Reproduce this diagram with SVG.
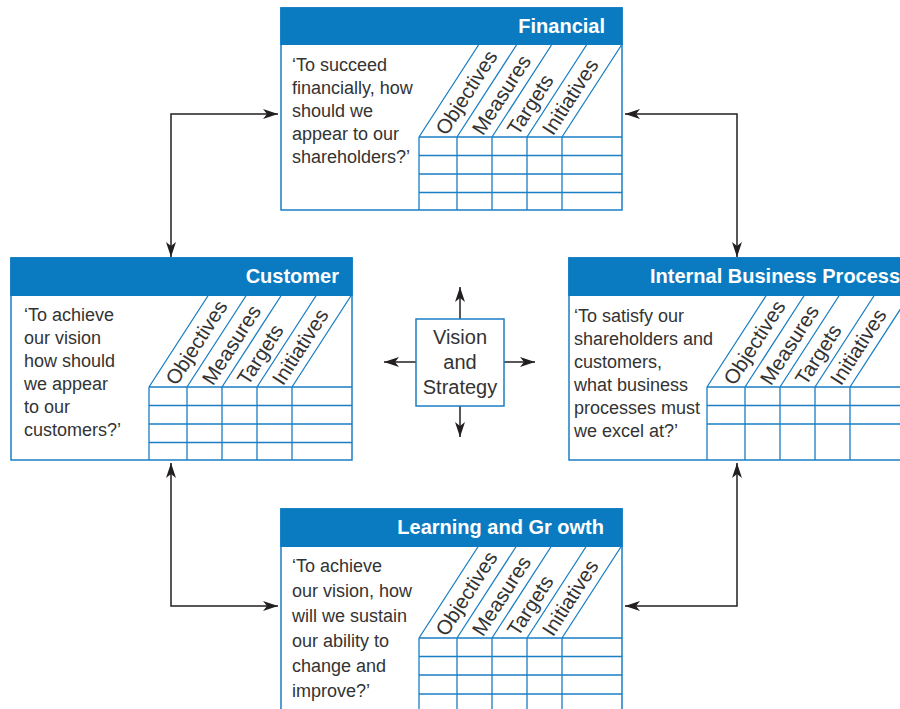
<svg xmlns="http://www.w3.org/2000/svg" xmlns:xlink="http://www.w3.org/1999/xlink" width="900" height="709" viewBox="0 0 900 709">
<style>
.box{fill:#fff;stroke:#1a7fc4;stroke-width:1.5}
.hdr{fill:#0a7bc1}
.grid{stroke:#1a7fc4;stroke-width:1.3;fill:none}
.ht{font-family:"Liberation Sans",Arial,sans-serif;font-weight:bold;font-size:20px;fill:#fff}
.q{font-family:"Liberation Sans",Arial,sans-serif;font-size:18px;fill:#333}
.lbl{font-family:"Liberation Sans",Arial,sans-serif;font-size:20.5px;fill:#333}
.vs{font-family:"Liberation Sans",Arial,sans-serif;font-size:20px;fill:#333;text-anchor:middle}
.conn{fill:none;stroke:#231f20;stroke-width:1.5;marker-start:url(#ah);marker-end:url(#ah)}
.out{fill:none;stroke:#231f20;stroke-width:1.5;marker-end:url(#ah)}
</style>
<defs>
<marker id="ah" viewBox="-16 -6 17 12" refX="0" refY="0" markerWidth="17" markerHeight="12" markerUnits="userSpaceOnUse" orient="auto-start-reverse">
<path d="M0,0 L-15,-5 L-11,0 L-15,5 Z" fill="#231f20"/>
</marker>
<g id="grid">
<path class="grid" d="M138,129 L197.5,37 M176,129 L235.5,37 M211,129 L270.5,37 M246,129 L305.5,37 M281,129 L340.5,37 M138,129 H341 M138,129 V202 M176,129 V202 M211,129 V202 M246,129 V202 M281,129 V202 M138,147.5 H341 M138,166 H341"/>
</g>
</defs>

<g id="connectors">
<path class="conn" d="M171,257 V114 H278"/>
<path class="conn" d="M625,114 H737 V257"/>
<path class="conn" d="M171,463 V606 H278"/>
<path class="conn" d="M737,463 V606 H625"/>
<path class="out" d="M460,319 V287"/>
<path class="out" d="M460,406 V437"/>
<path class="out" d="M416,362 H384"/>
<path class="out" d="M504,362 H535"/>
</g>

<g id="financial" transform="translate(281,8)">
<rect class="box" x="0" y="0" width="341" height="202"/>
<rect class="hdr" x="-0.75" y="-0.75" width="342.5" height="37.75"/>
<text class="ht" x="324" y="25" text-anchor="end">Financial</text>
<use xlink:href="#grid"/>
<path class="grid" d="M138,184.5 H341"/>
<text class="q" x="11"><tspan x="11" y="63">‘To succeed</tspan><tspan x="11" y="86">financially, how</tspan><tspan x="11" y="109">should we</tspan><tspan x="11" y="132">appear to our</tspan><tspan x="11" y="155">shareholders?’</tspan></text>
<text class="lbl" transform="translate(157,129) rotate(-57.3)" x="5" y="7">Objectives</text>
<text class="lbl" transform="translate(193.5,129) rotate(-57.3)" x="5" y="7">Measures</text>
<text class="lbl" transform="translate(228.5,129) rotate(-57.3)" x="5" y="7">Targets</text>
<text class="lbl" transform="translate(263.5,129) rotate(-57.3)" x="5" y="7">Initiatives</text>
</g>

<g id="customer" transform="translate(11,258)">
<rect class="box" x="0" y="0" width="341" height="202"/>
<rect class="hdr" x="-0.75" y="-0.75" width="342.5" height="38.75"/>
<text class="ht" x="328" y="25" text-anchor="end">Customer</text>
<use xlink:href="#grid"/>
<path class="grid" d="M138,184.5 H341"/>
<text class="q"><tspan x="13" y="63">‘To achieve</tspan><tspan x="13" y="86">our vision</tspan><tspan x="13" y="109">how should</tspan><tspan x="13" y="132">we appear</tspan><tspan x="13" y="155">to our</tspan><tspan x="13" y="178">customers?’</tspan></text>
<text class="lbl" transform="translate(157,129) rotate(-57.3)" x="5" y="7">Objectives</text>
<text class="lbl" transform="translate(193.5,129) rotate(-57.3)" x="5" y="7">Measures</text>
<text class="lbl" transform="translate(228.5,129) rotate(-57.3)" x="5" y="7">Targets</text>
<text class="lbl" transform="translate(263.5,129) rotate(-57.3)" x="5" y="7">Initiatives</text>
</g>

<g id="internal" transform="translate(569,258)">
<rect class="box" x="0" y="0" width="341" height="202"/>
<rect class="hdr" x="-0.75" y="-0.75" width="342.5" height="38.75"/>
<text class="ht" x="81" y="25">Internal Business Process</text>
<use xlink:href="#grid"/>
<text class="q"><tspan x="5" y="64">‘To satisfy our</tspan><tspan x="5" y="87">shareholders and</tspan><tspan x="5" y="110">customers,</tspan><tspan x="5" y="133">what business</tspan><tspan x="5" y="156">processes must</tspan><tspan x="5" y="179">we excel at?’</tspan></text>
<text class="lbl" transform="translate(157,129) rotate(-57.3)" x="5" y="7">Objectives</text>
<text class="lbl" transform="translate(193.5,129) rotate(-57.3)" x="5" y="7">Measures</text>
<text class="lbl" transform="translate(228.5,129) rotate(-57.3)" x="5" y="7">Targets</text>
<text class="lbl" transform="translate(263.5,129) rotate(-57.3)" x="5" y="7">Initiatives</text>
</g>

<g id="learning" transform="translate(281,509)">
<rect class="box" x="0" y="0" width="341" height="202"/>
<rect class="hdr" x="-0.75" y="-0.75" width="342.5" height="38.75"/>
<text class="ht" x="323" y="25" text-anchor="end">Learning and Gr owth</text>
<use xlink:href="#grid"/>
<path class="grid" d="M138,185 H341"/>
<text class="q"><tspan x="11" y="63">‘To achieve</tspan><tspan x="11" y="88">our vision, how</tspan><tspan x="11" y="113">will we sustain</tspan><tspan x="11" y="138">our ability to</tspan><tspan x="11" y="163">change and</tspan><tspan x="11" y="188">improve?’</tspan></text>
<text class="lbl" transform="translate(157,129) rotate(-57.3)" x="5" y="7">Objectives</text>
<text class="lbl" transform="translate(193.5,129) rotate(-57.3)" x="5" y="7">Measures</text>
<text class="lbl" transform="translate(228.5,129) rotate(-57.3)" x="5" y="7">Targets</text>
<text class="lbl" transform="translate(263.5,129) rotate(-57.3)" x="5" y="7">Initiatives</text>
</g>

<g id="vision">
<rect class="box" x="416" y="319" width="88" height="87"/>
<text class="vs"><tspan x="460" y="344">Vision</tspan><tspan x="460" y="369">and</tspan><tspan x="460" y="394">Strategy</tspan></text>
</g>
</svg>
